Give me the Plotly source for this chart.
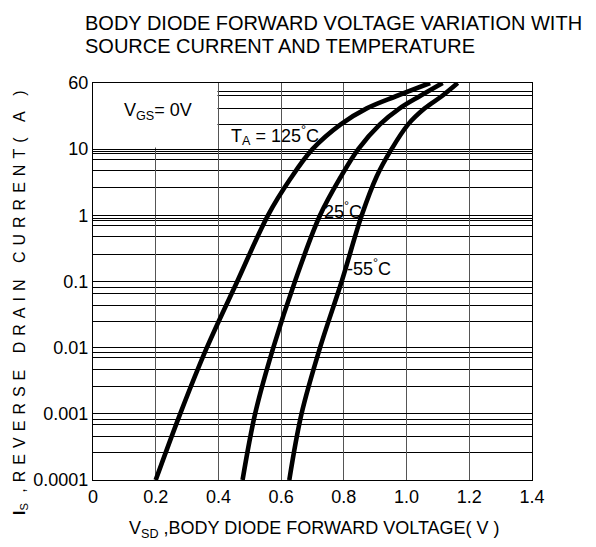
import plotly.graph_objects as go

# ---------------- data ----------------
v_125 = [0.200, 0.278, 0.363, 0.460, 0.558, 0.630, 0.700, 0.790, 0.873, 0.968, 1.075]
i_125 = [1e-4, 1e-3, 1e-2, 0.1, 1.0, 3.6, 10.0, 23.7, 41.4, 63.6, 100.0]

v_25 = [0.477, 0.517, 0.575, 0.644, 0.724, 0.790, 0.846, 0.915, 0.978, 1.043, 1.115]
i_25 = [1e-4, 1e-3, 1e-2, 0.1, 1.0, 3.8, 10.0, 23.7, 41.4, 63.6, 100.0]

v_m55 = [0.626, 0.665, 0.724, 0.793, 0.857, 0.905, 0.952, 1.005, 1.058, 1.113, 1.163]
i_m55 = [1e-4, 1e-3, 1e-2, 0.1, 1.0, 3.9, 10.0, 23.7, 41.4, 63.6, 100.0]

x_tickvals = [0, 0.2, 0.4, 0.6, 0.8, 1.0, 1.2, 1.4]
x_ticktext = ["0", "0.2", "0.4", "0.6", "0.8", "1.0", "1.2", "1.4"]
y_tickvals = [1e-4, 1e-3, 1e-2, 1e-1, 1, 10, 100]
y_ticktext = ["0.0001", "0.001", "0.01", "0.1", "1", "10", "60"]

# irregular minor grid lines of the datasheet
y_minor = [74, 64, 41, 24,
           9.3, 8.6, 7.05, 4.7, 2.6,
           0.91, 0.84, 0.705, 0.48, 0.26,
           0.080, 0.067, 0.044, 0.025,
           0.0084, 0.00705, 0.0047, 0.0026,
           0.00083, 0.00070, 0.00046, 0.00026]

FONT = "Arial, Liberation Sans, sans-serif"

fig = go.Figure()
for vx, iy in [(v_125, i_125), (v_25, i_25), (v_m55, i_m55)]:
    fig.add_trace(go.Scatter(x=vx, y=iy, mode="lines",
                             line=dict(color="black", width=4.6, shape="spline", smoothing=1.0),
                             showlegend=False, hoverinfo="skip"))

# white label box (upper-left) hiding the grid
fig.add_shape(type="rect", xref="x", yref="y", x0=0, x1=0.397, y0=10.6, y1=100,
              fillcolor="white", line=dict(width=0), layer="between")

fig.update_layout(
    width=596, height=547,
    margin=dict(l=93, r=64, t=83, b=67),
    paper_bgcolor="white", plot_bgcolor="white",
    font=dict(family=FONT, color="black", size=18),
    xaxis=dict(range=[0, 1.4], tickvals=x_tickvals, ticktext=x_ticktext,
               showgrid=True, gridcolor="#555555", gridwidth=1.2,
               showline=True, mirror=True, linecolor="black", linewidth=1.3,
               ticks="", zeroline=False, tickfont=dict(size=18)),
    yaxis=dict(type="log", range=[-4, 2], tickvals=y_tickvals, ticktext=y_ticktext,
               showgrid=True, gridcolor="black", gridwidth=1,
               minor=dict(tickvals=y_minor, showgrid=True, gridcolor="black", gridwidth=1, ticks=""),
               showline=True, mirror=True, linecolor="black", linewidth=1.3,
               ticks="", zeroline=False, tickfont=dict(size=18)),
)

# title lines
fig.add_annotation(text="BODY DIODE FORWARD VOLTAGE VARIATION WITH",
                   xref="paper", yref="paper", x=(83-93)/439, y=(480-22.5)/397,
                   showarrow=False, xanchor="left", yanchor="middle",
                   font=dict(family=FONT, size=20, color="black"))
fig.add_annotation(text="SOURCE CURRENT AND TEMPERATURE",
                   xref="paper", yref="paper", x=(83-93)/439, y=(480-46.5)/397,
                   showarrow=False, xanchor="left", yanchor="middle",
                   font=dict(family=FONT, size=20, color="black"))

ann = [
    dict(text="V<sub>GS</sub>= 0V", x=0.207, y=1.576, size=18),
    dict(text="T<sub>A</sub> = 125<sup>°</sup>C", x=0.58, y=1.212, size=18),
    dict(text="25<sup>°</sup>C", x=0.796, y=0.076, size=18),
    dict(text="-55<sup>°</sup>C", x=0.879, y=-0.783, size=18),
]
for a in ann:
    fig.add_annotation(text=a["text"], x=a["x"], y=a["y"], xref="x", yref="y",
                       showarrow=False, xanchor="center", yanchor="middle",
                       font=dict(family=FONT, size=a["size"], color="black"))

fig.add_annotation(text="V<sub>SD</sub> ,BODY DIODE FORWARD VOLTAGE( V )",
                   xref="paper", yref="paper", x=(314-93)/439, y=(480-529)/397,
                   showarrow=False, xanchor="center", yanchor="middle",
                   font=dict(family=FONT, size=18, color="black"))

fig.add_annotation(text="<b>I</b><sub>S</sub><span style='letter-spacing:6px'> ,REVERSE DRAIN CURRENT( A )</span>",
                   xref="paper", yref="paper", x=(20-93)/439, y=(480-300)/397,
                   textangle=-90, showarrow=False, xanchor="center", yanchor="middle",
                   font=dict(family=FONT, size=16, color="black"))

fig.write_html("out.html")
